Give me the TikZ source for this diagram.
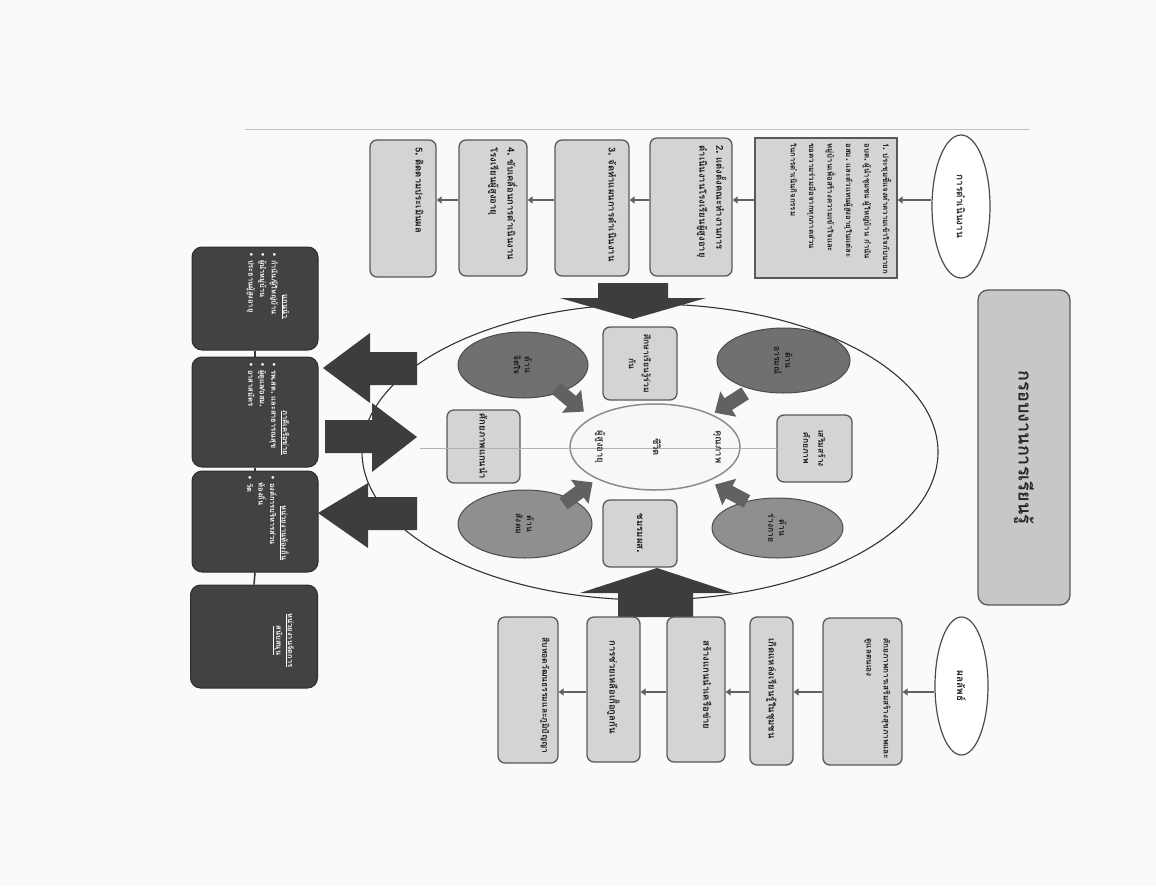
\documentclass[tikz,border=0pt]{standalone}
\usepackage{fontspec}
\setmainfont[Script=Thai]{Loma}
\newfontfamily\symfont{DejaVu Sans}
\newcommand{\bul}{{\symfont •}}
\newcommand{\dt}{{\symfont .}}
\usetikzlibrary{calc,shapes.geometric,arrows.meta}
\newcommand{\smarr}[3]{\fill[black!62, shift={(#1,#2)}, rotate=#3] (-18,-7) -- (2,-7) -- (2,-15) -- (18,0) -- (2,15) -- (2,7) -- (-18,7) -- cycle;}
\begin{document}
\begin{tikzpicture}[x=1pt,y=1pt,
  lbox/.style={draw=black!65, line width=1.3pt, fill=black!17, rounded corners=7pt, inner sep=0pt},
  dbox/.style={draw=black!82, line width=1pt, fill=black!74, rounded corners=10pt, inner sep=0pt},
  oval/.style={ellipse, draw=black!70, line width=1.2pt, fill=white, inner sep=0pt},
  otxt/.style={inner sep=1pt, font=\fontsize{10}{12}\selectfont\bfseries, text=black!85},
  dcirc/.style={ellipse, draw=black!70, line width=1pt, inner sep=0pt},
  dctxt/.style={inner sep=1pt, align=center, font=\fontsize{8.5}{11}\selectfont\bfseries, text=black!90},
  txt/.style={inner sep=1pt, align=left, font=\fontsize{9.5}{17}\selectfont\bfseries, text=black!90},
  dtxt/.style={inner sep=1pt, align=left, font=\fontsize{7.5}{11.5}\selectfont\bfseries, text=white},
  ctxt/.style={inner sep=1pt, align=center, font=\fontsize{9.5}{15}\selectfont\bfseries, text=black!80},
  itxt/.style={align=center, font=\fontsize{8.5}{15}\selectfont\bfseries, text=black!90},
  sarr/.style={-{Triangle[length=5pt,width=7pt]}, line width=2pt, draw=black!62},
  bigarr/.style={fill=black!76},
  link/.style={line width=1.6pt, draw=black!78}
]
\begin{scope}[rotate=-90, transform shape]
\useasboundingbox (0,0) rectangle (886,1156);
\fill[black!2] (0,0) rectangle (886,1156);
\draw[black!25, line width=0.8pt] (129,245) -- (129,1030);

% big oval
\draw[line width=1.1pt, black!80] (452,650) ellipse [x radius=148, y radius=288];

% big block arrows
\fill[bigarr] (283,598) -- (283,668) -- (298,668) -- (298,706) -- (319,633) -- (298,560) -- (298,598) -- cycle;
\fill[bigarr] (617,618) -- (593,618) -- (593,580) -- (568,657) -- (593,733) -- (593,693) -- (617,693) -- cycle;
\fill[bigarr] (352,417) -- (352,370) -- (333,370) -- (368,323) -- (403,370) -- (385,370) -- (385,417) -- cycle;
\fill[bigarr] (420,325) -- (420,372) -- (403,372) -- (437,417) -- (472,372) -- (453,372) -- (453,325) -- cycle;
\fill[bigarr] (497,417) -- (497,368) -- (483,368) -- (513,318) -- (548,368) -- (530,368) -- (530,417) -- cycle;

% title
\node[draw=black!65, line width=1.3pt, fill=black!22, rounded corners=10pt, minimum width=315pt, minimum height=92pt] (title) at (447.5,1024) {};
\node[inner sep=1pt, font=\fontsize{18}{22}\selectfont\bfseries, text=black!85] (titletext) at (title.center) {กรอบงานการเรียนรู้};

% process column
\node[oval, minimum width=143pt, minimum height=58pt] (E1) at (206.5,961) {};
\node[otxt] (E1t) at (E1.center) {การดำเนินงาน};
\node[draw=black!65, line width=1.3pt, fill=black!17, inner sep=0pt, minimum width=140pt, minimum height=142pt] (s1) at (208,826) {};
\node[lbox, minimum width=138pt, minimum height=82pt] (s2) at (207,691) {};
\node[lbox, minimum width=136pt, minimum height=74pt] (s3) at (208,592) {};
\node[lbox, minimum width=136pt, minimum height=68pt] (s4) at (208,493) {};
\node[lbox, minimum width=137pt, minimum height=66pt] (s5) at (208.5,403) {};
\node[txt, anchor=north west, font=\fontsize{7.8}{18.5}\selectfont\bfseries] (t1) at ($(s1.north west)+(5,-5)$) {1\dt\ ประชุมชี้แจงทำความเข้าใจกับนายก\\อบต\dt\ ผู้นำชุมชน ผู้ใหญ่บ้าน กำนัน\\อสม\dt\ และตัวแทนผู้สูงอายุในแต่ละ\\หมู่บ้านเพื่อสร้างความเข้าใจและ\\ขอความร่วมมือจากทุกภาคส่วน\\ในการดำเนินกิจกรรม};
\node[txt, anchor=north west] (t2) at ($(s2.north west)+(7,-5)$) {2\dt\ แต่งตั้งคณะทำงานการ\\ดำเนินงานโรงเรียนผู้สูงอายุ};
\node[txt, anchor=north west] (t3) at ($(s3.north west)+(7,-12)$) {3\dt\ จัดทำแผนการดำเนินงาน};
\node[txt, anchor=north west] (t4) at ($(s4.north west)+(7,-9)$) {4\dt\ ขับเคลื่อนการดำเนินงาน\\โรงเรียนผู้สูงอายุ};
\node[txt, anchor=north west] (t5) at ($(s5.north west)+(7,-12)$) {5\dt\ ติดตามประเมินผล};
\coordinate (ua) at (200,0);
\draw[sarr] (E1.south -| ua) -- (s1.north -| ua);
\draw[sarr] (s1.south -| ua) -- (s2.north -| ua);
\draw[sarr] (s2.south -| ua) -- (s3.north -| ua);
\draw[sarr] (s3.south -| ua) -- (s4.north -| ua);
\draw[sarr] (s4.south -| ua) -- (s5.north -| ua);

% results column
\node[oval, minimum width=138pt, minimum height=53pt] (E2) at (686,961.5) {};
\node[otxt] (E2t) at (E2.center) {ผลลัพธ์};
\node[lbox, minimum width=147pt, minimum height=79pt] (ra) at (691.5,862.5) {};
\node[lbox, minimum width=148pt, minimum height=43pt] (rb) at (691,771.5) {};
\node[lbox, minimum width=145pt, minimum height=58pt] (rc) at (689.5,696) {};
\node[lbox, minimum width=145pt, minimum height=53pt] (rd) at (689.5,613.5) {};
\node[lbox, minimum width=146pt, minimum height=60pt] (re) at (690,528) {};
\node[txt, anchor=north west, font=\fontsize{8.2}{17}\selectfont\bfseries] (q1) at ($(ra.north west)+(20,-11)$) {ศักยภาพการเสริมสร้างสุขภาพและ\\ดูแลตนเอง};
\node[txt, anchor=west] (q2) at ($(rb.west)+(21,0)$) {เกิดแหล่งเรียนรู้ในชุมชน};
\node[txt, anchor=north west] (q3) at ($(rc.north west)+(23,-13)$) {สร้างแกนนำเครือข่าย};
\node[txt, anchor=west] (q4) at ($(rd.west)+(23,0)$) {การช่วยเหลือเกื้อกูลกัน};
\node[txt, anchor=north west, font=\fontsize{8.5}{17}\selectfont\bfseries] (q5) at ($(re.north west)+(20,-8)$) {สืบทอดวัฒนธรรมและภูมิปัญญา};
\coordinate (ub) at (692,0);
\draw[sarr] (E2.south -| ub) -- (ra.north -| ub);
\draw[sarr] (ra.south -| ub) -- (rb.north -| ub);
\draw[sarr] (rb.south -| ub) -- (rc.north -| ub);
\draw[sarr] (rc.south -| ub) -- (rd.north -| ub);
\draw[sarr] (rd.south -| ub) -- (re.north -| ub);

% inside the oval
\node[dcirc, fill=black!56, minimum width=65pt, minimum height=133pt] (cTR) at (360.5,783.5) {};
\node[dcirc, fill=black!44, minimum width=60pt, minimum height=131pt] (cBR) at (528,777.5) {};
\node[dcirc, fill=black!56, minimum width=66pt, minimum height=130pt] (cTL) at (365,523) {};
\node[dcirc, fill=black!44, minimum width=68pt, minimum height=134pt] (cBL) at (524,525) {};
\node[dctxt] (cTRt) at (cTR.center) {ด้าน\\อารมณ์};
\node[dctxt] (cBRt) at (cBR.center) {ด้าน\\ร่างกาย};
\node[dctxt] (cTLt) at (cTL.center) {ด้าน\\จิตใจ};
\node[dctxt] (cBLt) at (cBL.center) {ด้าน\\สังคม};
\node[lbox, itxt, minimum width=67pt, minimum height=75pt] (bR) at (448.5,814.5) {เสริมสร้าง\\ศักยภาพ};
\node[lbox, itxt, minimum width=73pt, minimum height=74pt] (bT) at (363.5,640) {ศึกษาเรียนรู้ร่วม\\กัน};
\node[lbox, itxt, minimum width=73pt, minimum height=73pt, font=\fontsize{9.5}{15}\selectfont\bfseries] (bL) at (446.5,483.5) {ศักยภาพแกนนำ};
\node[lbox, itxt, minimum width=67pt, minimum height=74pt, font=\fontsize{9.5}{15}\selectfont\bfseries] (bB) at (533.5,640) {ชมรมผส\dt};
\node[ellipse, draw=black!45, line width=1.5pt, fill=black!3, minimum width=86pt, minimum height=170pt, inner sep=0pt] (core) at (447,655) {};
\draw[black!30, line width=0.5pt] (448,420) -- (448,777);
\node[ctxt] (k1) at (447,717) {คุณภาพ};
\node[ctxt] (k2) at (447,657) {ชีวิต};
\node[ctxt] (k3) at (447,600) {ผู้สูงอายุ};
\smarr{403}{730}{302.6}
\smarr{493}{731}{242.2}
\smarr{400}{570}{50.2}
\smarr{493}{578}{126.1}

% dark boxes
\node[dbox, minimum width=103pt, minimum height=126pt] (dA) at (298.5,255) {};
\node[dbox, minimum width=110pt, minimum height=126pt] (dB) at (412,255) {};
\node[dbox, minimum width=101pt, minimum height=126pt] (dC) at (521.5,255) {};
\node[dbox, minimum width=103pt, minimum height=127pt] (dD) at (636.5,254) {};
\draw[link] (dA.east) -- (dB.west);
\draw[link] (dB.east) -- (dC.west);
\draw[link] (dC.east) -- (dD.west);
\node[dtxt, anchor=north west] (xA) at ($(dA.north west)+(5,-28)$) {\hspace*{42pt}\underline{แกนนำ}\\\bul\ กำนัน/ผู้ใหญ่บ้าน\\\bul\ ผู้นำหมู่บ้าน\\\bul\ ประธานผู้สูงอายุ};
\node[dtxt, anchor=north west] (xB) at ($(dB.north west)+(5,-28)$) {\hspace*{48pt}\underline{ภาคีเครือข่าย}\\\bul\ รพ\dt สต\dt\ และสาธารณสุข\\\bul\ ผู้ดูแล/อสม\dt\\\bul\ อาสาสมัคร};
\node[dtxt, anchor=north west] (xC) at ($(dC.north west)+(4,-28)$) {\hspace*{30pt}\underline{หน่วยงานท้องถิ่น}\\\bul\ องค์การบริหารส่วน\\\hspace*{7pt}ท้องถิ่น\\\bul\ วัด};
\node[dtxt, anchor=north, align=center] (xD) at ($(dD.north)+(4,-23)$) {\underline{หน่วยงานจัดการ}\\\underline{สนับสนุน}};
\end{scope}
\end{tikzpicture}
\end{document}
